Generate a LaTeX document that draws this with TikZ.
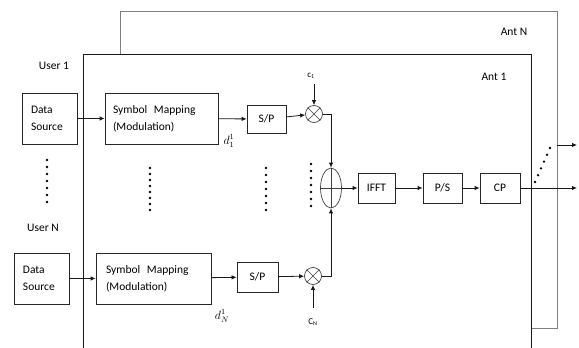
\documentclass[tikz,border=0pt]{standalone}
\usepackage{fontspec}
\setmainfont{Carlito}
\usetikzlibrary{arrows.meta,shapes.geometric}
\begin{document}
\begin{tikzpicture}[x=1pt,y=-1pt,
  font=\fontsize{11.5}{17}\selectfont,
  blk/.style={draw=black!85, line width=0.8pt, rectangle, inner sep=0pt, align=left},
  cbox/.style={draw=black!85, line width=0.8pt, rectangle, inner sep=0pt, align=center},
  arr/.style={-{Latex[length=5pt,width=4.5pt]}, line width=0.8pt, draw=black!90},
  mult/.style={draw=black!75, circle, minimum size=17pt, inner sep=0pt, line width=0.7pt},
  adder/.style={draw=black!75, ellipse, minimum width=21pt, minimum height=40pt, inner sep=0pt, line width=0.7pt},
  backrect/.style={draw=black!50, line width=1pt},
  frontrect/.style={draw=black!90, line width=0.8pt},
  lbl/.style={inner sep=0pt},
  smalllbl/.style={inner sep=0pt, font=\fontsize{9}{10}\selectfont},
  dot/.style={fill=black}
  ]
\useasboundingbox (0,0) rectangle (579,348);

% antenna frames
\draw[backrect] (120,54) -- (120,11) -- (557,11) -- (557,328) -- (531,328);
\draw[frontrect] (83,348) -- (83,54) -- (531,54) -- (531,348);

% labels
\node[lbl] (u1) at (54,66) {User 1};
\node[lbl] (uN) at (43,228) {User N};
\node[lbl] (antN) at (514,32) {Ant N};
\node[lbl] (ant1) at (494,77) {Ant 1};

% user 1 chain
\node[blk, minimum height=51pt, text width=37pt, inner xsep=9pt] (ds1) at (49.5,118.5) {Data\\Source};
\node[blk, minimum height=51pt, text width=97pt, inner xsep=8pt] (sm1) at (161.5,118.5) {Symbol\hspace{0.25em} Mapping\\(Modulation)};
\node[cbox, minimum width=39pt, minimum height=28pt] (sp1) at (266.5,119) {S/P};
\node[mult] (m1) at (314,114) {};
\draw[draw=black!75, line width=0.7pt] (m1.north west) -- (m1.south east) (m1.north east) -- (m1.south west);
\node[lbl] (d1) at (229,141) {$d_1^1$};
\node[smalllbl] (c1) at (311,76) {c\textsubscript{1}};
\coordinate (c1s) at (314,84);

% user N chain
\node[blk, minimum height=51pt, text width=37pt, inner xsep=9pt] (dsN) at (41.5,278.5) {Data\\Source};
\node[blk, minimum height=51pt, text width=95pt, inner xsep=10pt] (smN) at (153.5,278.5) {Symbol\hspace{0.25em} Mapping\\(Modulation)};
\node[cbox, minimum width=41pt, minimum height=30pt] (spN) at (257.5,277) {S/P};
\node[mult] (mN) at (313,276) {};
\draw[draw=black!75, line width=0.7pt] (mN.north west) -- (mN.south east) (mN.north east) -- (mN.south west);
\node[lbl] (dN) at (222,316) {$d_N^1$};
\node[smalllbl] (cN) at (313,322) {C\textsubscript{N}};
\coordinate (cNs) at (313,308);

% adder and back end
\node[adder] (add) at (331,188) {};
\draw[draw=black!75, line width=0.7pt] (add.west) -- (add.east) (add.north) -- (add.south);
\node[cbox, minimum width=37pt, minimum height=30pt] (ifft) at (376.5,188) {IFFT};
\node[cbox, minimum width=39pt, minimum height=30pt] (ps) at (442.5,188) {P/S};
\node[cbox, minimum width=40pt, minimum height=30pt] (cp) at (500,188) {CP};
\coordinate (o1) at (577,188);
\coordinate (o2s) at (557,145);
\coordinate (o2) at (577,145);

% connectors
\draw[arr] (ds1) -- (sm1);
\draw[arr] (sm1) -- (sp1);
\draw[arr] (sp1) -- (m1);
\draw[arr] (c1s) -- (m1.north);
\draw[arr] (m1.east) -| (add.north);
\draw[arr] (dsN) -- (smN);
\draw[arr] (smN) -- (spN);
\draw[arr] (spN) -- (mN);
\draw[arr] (cNs) -- (mN.south);
\draw[arr] (mN.east) -| (add.south);
\draw[arr] (add.east) -- (ifft);
\draw[arr] (ifft) -- (ps);
\draw[arr] (ps) -- (cp);
\draw[arr] (cp) -- (o1);
\draw[arr] (o2s) -- (o2);

% dots
\foreach \i in {0,...,6} \fill[dot] (47,{160+7*\i}) circle (1.3pt);
\foreach \i in {0,...,7} \fill[dot] (150,{168+6*\i}) circle (1.3pt);
\foreach \i in {0,...,6} \fill[dot] (266,{168+7*\i}) circle (1.3pt);
\foreach \i in {0,...,6} \fill[dot] (311,{164+7*\i}) circle (1.3pt);
\foreach \i in {0,...,5} \fill[dot] ({535+3*\i},{182-6.8*\i}) circle (1.3pt);
\end{tikzpicture}
\end{document}
